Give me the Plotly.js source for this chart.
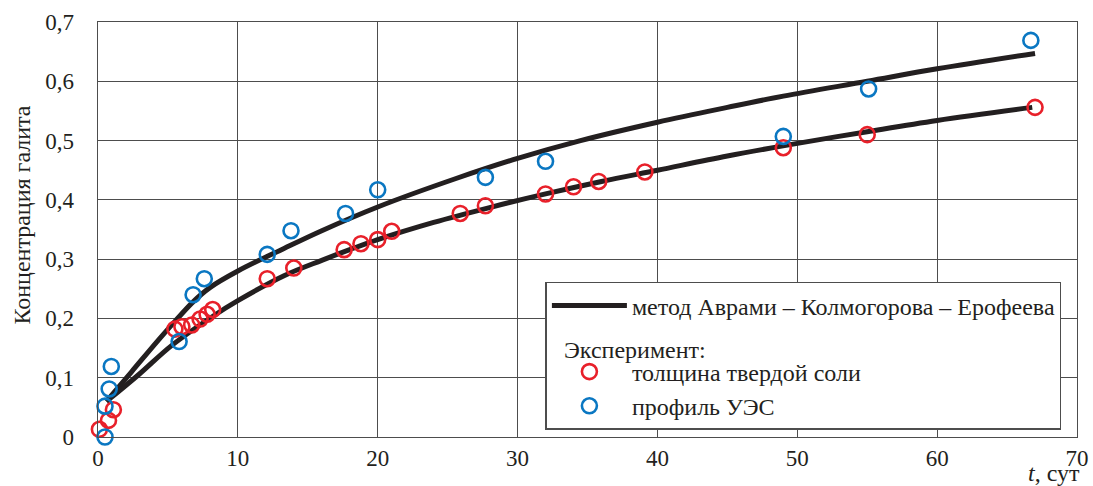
<!DOCTYPE html>
<html>
<head>
<meta charset="utf-8">
<script src="https://cdn.plot.ly/plotly-3.0.1.min.js"></script>
<style>
  html, body { margin: 0; padding: 0; background: #fff; }
  #chart { width: 1093px; height: 486px; }
</style>
</head>
<body>
<div id="chart"></div>
<script>
// Experiment: thickness of solid salt
const saltT = [0.1, 0.75, 1.1, 5.5, 6.0, 6.7, 7.3, 7.8, 8.2, 12.1, 14.0, 17.6, 18.8, 20.0, 21.0, 25.9, 27.7, 32.0, 34.0, 35.8, 39.1, 49.0, 55.0, 67.0];
const saltC = [0.013, 0.028, 0.046, 0.182, 0.186, 0.189, 0.199, 0.207, 0.215, 0.267, 0.285, 0.316, 0.326, 0.333, 0.347, 0.377, 0.390, 0.410, 0.422, 0.431, 0.447, 0.488, 0.510, 0.556];

// Experiment: resistivity profile (УЭС)
const uesT = [0.5, 0.5, 0.8, 0.95, 5.8, 6.8, 7.6, 12.1, 13.8, 17.7, 20.0, 27.7, 32.0, 49.0, 55.1, 66.7];
const uesC = [0.0, 0.052, 0.081, 0.119, 0.161, 0.240, 0.267, 0.308, 0.348, 0.377, 0.417, 0.438, 0.465, 0.507, 0.587, 0.669];

// Avrami – Kolmogorov – Erofeev curves
const fitUesT = [0.6, 2.4, 4.3, 5.5, 6.8, 8.0, 10.0, 13.3, 16.0, 20.0, 25.6, 30.0, 34.5, 40.0, 45.0, 49.0, 55.0, 60.0, 67.0];
const fitUesC = [0.060, 0.110, 0.163, 0.195, 0.228, 0.252, 0.280, 0.318, 0.348, 0.388, 0.436, 0.470, 0.500, 0.531, 0.556, 0.575, 0.600, 0.621, 0.647];
const fitSaltT = [0.6, 2.9, 5.3, 8.3, 10.0, 13.3, 16.0, 18.0, 20.0, 24.0, 28.0, 32.0, 36.0, 40.0, 45.0, 49.7, 55.0, 60.0, 66.8];
const fitSaltC = [0.060, 0.105, 0.155, 0.205, 0.230, 0.272, 0.298, 0.316, 0.333, 0.362, 0.387, 0.410, 0.431, 0.450, 0.474, 0.494, 0.515, 0.534, 0.556];

const xTicks = [0, 10, 20, 30, 40, 50, 60, 70];
const yTicks = [0, 0.1, 0.2, 0.3, 0.4, 0.5, 0.6, 0.7];

const serif = 'Liberation Serif';
const tickSize = 23;
const textSize = 24;
const ink = '#231f20';
const red = '#e8202a';
const blue = '#0a77c2';

const lineStyle = { color: ink, width: 5, shape: 'spline', smoothing: 1 };

const traces = [
  {
    x: fitUesT, y: fitUesC, mode: 'lines', line: lineStyle,
    name: 'метод Аврами – Колмогорова – Ерофеева',
    legendgroup: 'fit', showlegend: true, hoverinfo: 'skip'
  },
  {
    x: fitSaltT, y: fitSaltC, mode: 'lines', line: lineStyle,
    legendgroup: 'fit', showlegend: false, hoverinfo: 'skip'
  },
  {
    x: saltT, y: saltC, mode: 'markers', name: 'толщина твердой соли',
    legendgroup: 'exp', cliponaxis: false,
    marker: { symbol: 'circle-open', size: 15, color: red, line: { width: 2.6, color: red } }
  },
  {
    x: uesT, y: uesC, mode: 'markers', name: 'профиль УЭС',
    legendgroup: 'exp', cliponaxis: false,
    marker: { symbol: 'circle-open', size: 15, color: blue, line: { width: 2.6, color: blue } }
  }
];

const axisCommon = {
  showgrid: true, gridcolor: '#4d4d4d', gridwidth: 1.2,
  showline: true, linecolor: '#4d4d4d', linewidth: 1.4, mirror: true,
  zeroline: false, ticks: '', fixedrange: true,
  tickfont: { family: serif, size: tickSize, color: ink }
};

const layout = {
  width: 1093, height: 486,
  margin: { l: 98, r: 16, t: 22, b: 48.5 },
  paper_bgcolor: '#fff', plot_bgcolor: '#fff',
  separators: ', ',
  font: { family: serif, color: ink },
  xaxis: Object.assign({}, axisCommon, {
    range: [0, 70], tickvals: xTicks, ticklabelstandoff: 0
  }),
  yaxis: Object.assign({}, axisCommon, {
    range: [0, 0.7], tickvals: yTicks, ticklabelstandoff: 18
  }),
  legend: {
    x: 0.457, xanchor: 'left', y: 0.374, yanchor: 'top',
    bgcolor: '#fff', bordercolor: '#4d4d4d', borderwidth: 1.5,
    font: { family: serif, size: textSize, color: ink },
    traceorder: 'grouped', tracegroupgap: 32, itemwidth: 75
  },
  annotations: [
    {
      text: 'Концентрация галита', textangle: -90,
      xref: 'paper', yref: 'paper', x: -0.078, y: 0.535,
      xanchor: 'center', yanchor: 'middle', showarrow: false,
      font: { family: serif, size: textSize, color: ink }
    },
    {
      text: '<i>t</i>, сут',
      xref: 'paper', yref: 'paper', x: 1.005, y: -0.086,
      xanchor: 'right', yanchor: 'middle', showarrow: false,
      font: { family: serif, size: textSize, color: ink }
    },
    {
      text: 'Эксперимент:',
      xref: 'paper', yref: 'paper', x: 0.474, y: 0.21,
      xanchor: 'left', yanchor: 'middle', showarrow: false,
      font: { family: serif, size: textSize, color: ink }
    }
  ]
};

Plotly.newPlot('chart', traces, layout, { staticPlot: true, displayModeBar: false });
</script>
</body>
</html>
